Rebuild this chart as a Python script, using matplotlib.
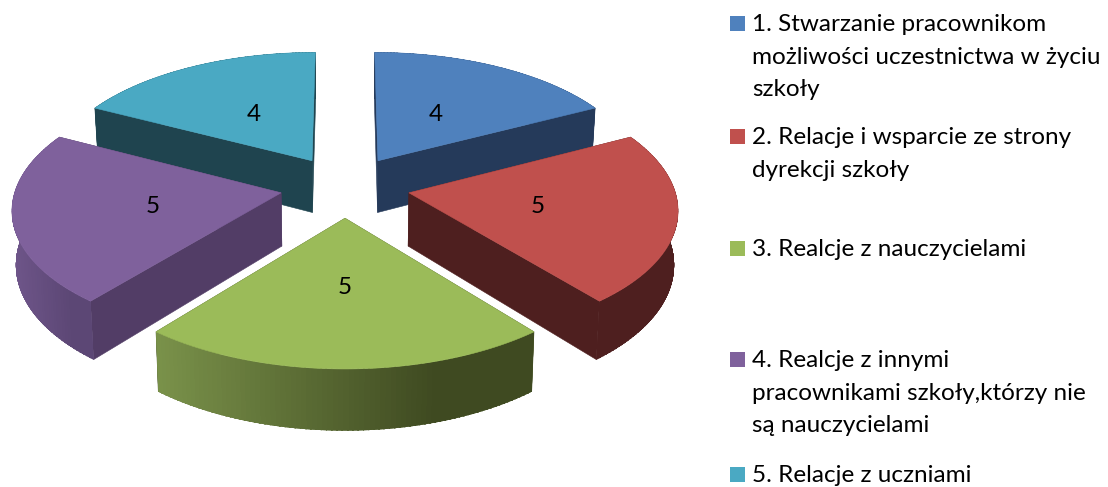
#!/usr/bin/env python3
"""Exploded 3D pie chart with a wrapped legend on the right."""

import numpy as np
import matplotlib
matplotlib.use('Agg')
import matplotlib.pyplot as plt
from matplotlib.collections import PolyCollection
from matplotlib.colors import to_rgb
from matplotlib.patches import Polygon, Rectangle

values = [4, 5, 5, 5, 4]
legend_lines = [
    ['1. Stwarzanie pracownikom', 'możliwości uczestnictwa w życiu', 'szkoły'],
    ['2. Relacje i wsparcie ze strony', 'dyrekcji szkoły'],
    ['3. Realcje z nauczycielami'],
    ['4. Realcje z innymi', 'pracownikami szkoły,którzy nie', 'są nauczycielami'],
    ['5. Relacje z uczniami'],
]
top_colors = ['#4F81BD', '#C0504D', '#9BBB59', '#7F619C', '#4AA9C3']
cut_colors = ['#253A5A', '#4E1F1F', '#3F4A21', '#523D66', '#1F444F']
wall_light = ['#253A5A', '#4E1F1F', '#7A924A', '#6E5589', '#1F444F']
wall_dark = ['#253A5A', '#4E1F1F', '#3F4A21', '#5C4775', '#1F444F']

# projection of the pie disc onto the picture, in pixels
CX, CY = 345, 186.5
RX, RY = 265, 126
PERSP = 0.1127
EXPLODE = 0.245
DEPTH = 53
BOTTOM_SHRINK = 0.988
LABEL_POS = 0.485
LABEL_NUDGE = [-3, 0, 0, 0, 3]

LEGEND_FIRST = [31, 144, 256, 367, 482]
LINE_H = 32.7
FONT = 'Lato'
FONT_SIZE = 17.5


def project(u, v, bottom=False):
    """Disc coordinates (u right, v towards viewer) to picture pixels"""
    s = 1 / (1 - PERSP * v)
    x = RX * u * s
    y = CY + RY * v * s
    if bottom:
        x = x * BOTTOM_SHRINK
        y = y + DEPTH * s
    return CX + x, y


def slice_outline(start, end, mid):
    """Tip offset and rim points of one exploded slice (angles clockwise from north)"""
    off_u = EXPLODE * np.sin(mid)
    off_v = -EXPLODE * np.cos(mid)
    ang = np.linspace(start, end, 80)
    return off_u, off_v, off_u + np.sin(ang), off_v - np.cos(ang)


def draw_walls(ax, idx, start, end, mid):
    """Draw the two cut faces and the shaded rim wall of a slice"""
    off_u, off_v, rim_u, rim_v = slice_outline(start, end, mid)

    for u, v in ((rim_u[0], rim_v[0]), (rim_u[-1], rim_v[-1])):
        corners = [project(off_u, off_v), project(u, v),
                   project(u, v, bottom=True), project(off_u, off_v, bottom=True)]
        ax.add_patch(Polygon(corners, facecolor=cut_colors[idx],
                             edgecolor=cut_colors[idx], linewidth=0.4))

    top_x, top_y = project(rim_u, rim_v)
    bot_x, bot_y = project(rim_u, rim_v, bottom=True)
    light = np.array(to_rgb(wall_light[idx]))
    dark = np.array(to_rgb(wall_dark[idx]))
    span = max(top_x.max() - top_x.min(), 1)

    # solid wall underneath keeps the edge smooth, strips on top give the shading
    outline = np.column_stack((np.concatenate((top_x, bot_x[::-1])),
                               np.concatenate((top_y, bot_y[::-1]))))
    base = Polygon(outline, facecolor=light + (dark - light) * 0.5, edgecolor='none')
    ax.add_patch(base)

    polys, colors = [], []
    for i in range(len(top_x) - 1):
        t = min(1.0, 1.35 * (top_x[i] - top_x.min()) / span)
        polys.append([(top_x[i], top_y[i] - 3), (top_x[i + 1], top_y[i + 1] - 3),
                      (bot_x[i + 1], bot_y[i + 1] + 3), (bot_x[i], bot_y[i] + 3)])
        colors.append(light + (dark - light) * t)
    strips = PolyCollection(polys, facecolors=colors, edgecolors=colors,
                            linewidths=0.6, antialiased=False)
    ax.add_collection(strips)
    strips.set_clip_path(base)


def draw_top(ax, idx, start, end, mid):
    off_u, off_v, rim_u, rim_v = slice_outline(start, end, mid)
    us = np.concatenate(([off_u], rim_u))
    vs = np.concatenate(([off_v], rim_v))
    xs, ys = project(us, vs)
    ax.add_patch(Polygon(np.column_stack((xs, ys)), facecolor=top_colors[idx],
                         edgecolor=top_colors[idx], linewidth=0.4))

    lx, ly = project(off_u + LABEL_POS * np.sin(mid), off_v - LABEL_POS * np.cos(mid))
    ax.text(lx + LABEL_NUDGE[idx], ly + 1, str(values[idx]), ha='center', va='center',
            fontsize=FONT_SIZE, family=FONT, color='black', zorder=5)


def draw_legend(ax):
    for idx, lines in enumerate(legend_lines):
        base = LEGEND_FIRST[idx]
        ax.add_patch(Rectangle((730, base - 15), 15, 15, facecolor=top_colors[idx], edgecolor='none'))
        for n, line in enumerate(lines):
            ax.text(752, base + n * LINE_H, line, ha='left', va='baseline',
                    fontsize=FONT_SIZE, family=FONT, color='black')


def main():
    fig = plt.figure(figsize=(11.08, 4.87), dpi=100)
    ax = fig.add_axes([0, 0, 1, 1])
    ax.set_xlim(0, 1108)
    ax.set_ylim(487, 0)
    ax.axis('off')

    fractions = np.array(values) / sum(values)
    edges = np.concatenate(([0], np.cumsum(fractions))) * 2 * np.pi
    slices = [(i, edges[i], edges[i + 1], (edges[i] + edges[i + 1]) / 2) for i in range(len(values))]

    # back slices first so the front ones overlap them
    for idx, start, end, mid in sorted(slices, key=lambda s: -np.cos(s[3])):
        draw_walls(ax, idx, start, end, mid)
        draw_top(ax, idx, start, end, mid)

    draw_legend(ax)
    fig.savefig('out.png', dpi=100, facecolor='white')
    plt.close(fig)


if __name__ == '__main__':
    main()
